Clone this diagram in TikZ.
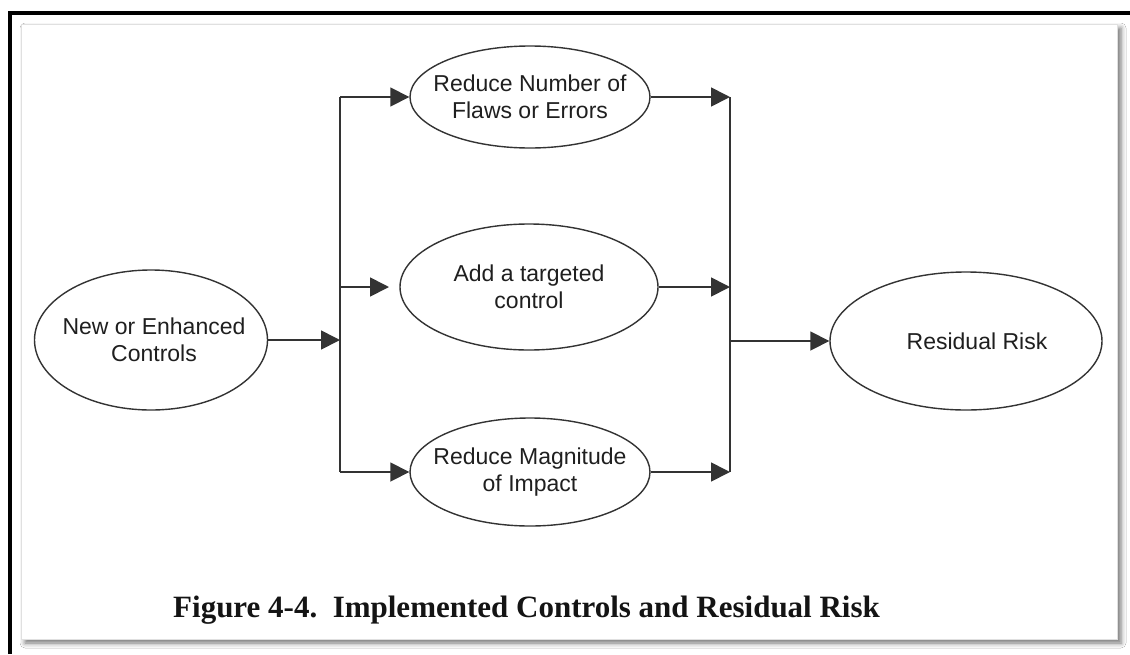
\documentclass[tikz,border=0pt]{standalone}
\usepackage{fontspec}
\setmainfont{Liberation Serif}
\newfontfamily\nodefont{Liberation Sans}
\usetikzlibrary{shapes.geometric,arrows.meta,shadows.blur}

\tikzset{
  oval/.style={ellipse, draw=black!80, line width=1.4pt, fill=white, inner sep=0pt},
  ovaltext/.style={align=center, inner sep=0pt, text=black!88,
    font=\nodefont\fontsize{23pt}{27pt}\selectfont},
  wire/.style={draw=black!80, line width=1.7pt},
  flow/.style={wire, -{Triangle[length=19pt,width=19pt]}},
  panel/.style={fill=white, draw=black!12, line width=0.8pt,
    blur shadow={shadow xshift=4pt, shadow yshift=-4pt, shadow blur radius=5pt, shadow opacity=55}},
  rule/.style={draw=black, line width=4pt}
}

\begin{document}
\begin{tikzpicture}[x=1pt, y=-1pt]
\useasboundingbox (0,0) rectangle (1130,654);
\fill[white] (0,0) rectangle (1130,654);

% page frame and figure panel
\draw[rule] (10,654) -- (10,13) -- (1130,13);
\path[panel] (21,24) rectangle (1117,639);

% nodes: fixed-size ovals with their texts set as centred labels
\node[oval, minimum width=233pt, minimum height=140pt,
  label={[ovaltext, xshift=3pt]center:New or Enhanced\\Controls}] (new) at (151,340) {};
\node[oval, minimum width=240pt, minimum height=102pt,
  label={[ovaltext]center:Reduce Number of\\Flaws or Errors}] (flaws) at (530,97) {};
\node[oval, minimum width=258pt, minimum height=126pt,
  label={[ovaltext]center:Add a targeted\\control}] (target) at (529,287) {};
\node[oval, minimum width=240pt, minimum height=108pt,
  label={[ovaltext]center:Reduce Magnitude\\of Impact}] (impact) at (530,472) {};
\node[oval, minimum width=272pt, minimum height=138pt,
  label={[ovaltext, xshift=11pt]center:Residual Risk}] (risk) at (966,341) {};

% bus lines
\coordinate (lbtop) at (340,97);
\coordinate (lbbot) at (340,472);
\coordinate (rbtop) at (730,97);
\coordinate (rbbot) at (730,472);
\coordinate (tin) at (389,287);

\draw[wire] (lbtop) -- (lbbot);
\draw[wire] (rbtop) -- (rbbot);

% connectors
\draw[flow] (new.east) -- (new.east -| lbtop);
\draw[flow] (lbtop) -- (flaws.west);
\draw[flow] (tin -| lbtop) -- (tin);
\draw[flow] (lbbot) -- (impact.west);
\draw[flow] (flaws.east) -- (rbtop);
\draw[flow] (target.east) -- (target.east -| rbtop);
\draw[flow] (impact.east) -- (rbbot);
\draw[flow] (risk.west -| rbtop) -- (risk.west);

% caption
\node[anchor=base west, inner sep=0pt, text=black!92, font=\bfseries\fontsize{31pt}{36pt}\selectfont] (caption) at (173,617)
  {Figure 4-4.\ \ Implemented Controls and Residual Risk};
\end{tikzpicture}
\end{document}
